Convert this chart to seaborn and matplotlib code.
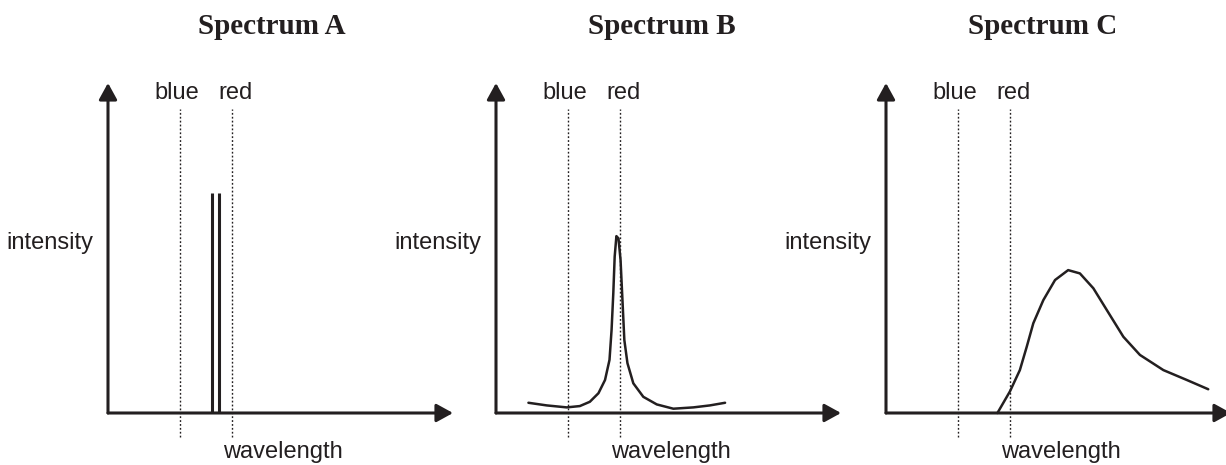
import matplotlib
matplotlib.use("Agg")
import matplotlib.pyplot as plt
import pandas as pd
import seaborn as sns

# panel data (wavelength / intensity in arbitrary units, 0-100)
titles = ["Spectrum A", "Spectrum B", "Spectrum C"]
blue_pos = 21.0
red_pos = 36.0

# spectrum A: two emission lines
lines_a_x = [30.1, 32.1]
lines_a_height = [66.7, 66.7]

# spectrum B: narrow peak near red
b_x = [9.4, 14.7, 20.5, 24.3, 27.2, 29.7, 31.6, 32.9, 33.5, 34.0, 34.4,
       34.9, 35.5, 36.1, 36.7, 37.2, 38.1, 39.8, 42.7, 46.6, 51.4, 57.2,
       62.0, 66.4]
b_y = [3.1, 2.3, 1.7, 2.1, 3.4, 6.0, 10.0, 16.1, 25.2, 36.3, 47.4,
       53.6, 52.9, 46.4, 33.2, 22.1, 15.1, 9.0, 4.9, 2.6, 1.3, 1.7,
       2.3, 3.1]

# spectrum C: broad hump redward
c_x = [32.3, 35.9, 38.8, 40.8, 42.7, 45.6, 49.0, 52.8, 56.2, 60.1, 64.0,
       68.8, 73.6, 80.4, 87.2, 93.4]
c_y = [0.0, 6.5, 13.0, 20.1, 27.2, 34.2, 40.3, 43.3, 42.3, 37.8, 31.2,
       23.1, 17.6, 13.0, 10.0, 7.2]

sns.set_theme(style="white")
plt.rcParams['font.family'] = ['Liberation Sans', 'DejaVu Sans']

INK = "#231f20"
W, H = 1226, 465
fig = plt.figure(figsize=(W / 100, H / 100), dpi=100)

origins = [108, 496, 886]   # pixel x of each y-axis
title_x = [47.5, 48.0, 45.5]
axes = []
for ox in origins:
    ax = fig.add_axes([ox / W, (H - 413) / H, 345 / W, 330 / H])
    ax.set_xlim(0, 100)
    ax.set_ylim(0, 100)
    axes.append(ax)

arrow = dict(arrowstyle="-|>,head_length=0.4,head_width=0.22",
             mutation_scale=25, lw=2.2, color=INK, shrinkA=0, shrinkB=0)

for i, ax in enumerate(axes):
    # axis arrows
    ax.annotate("", xy=(1, 0), xytext=(0, 0), xycoords="axes fraction",
                arrowprops=arrow, annotation_clip=False)
    ax.annotate("", xy=(0, 1), xytext=(0, 0), xycoords="axes fraction",
                arrowprops=arrow, annotation_clip=False)
    # blue/red markers
    ax.vlines([blue_pos, red_pos], -7.3, 92, colors=INK, linestyles=(0, (1.3, 1.5)),
              lw=1.0, clip_on=False)
    ax.text(20.0, 97, "blue", ha="center", va="center", fontsize=17, color=INK)
    ax.text(37.1, 97, "red", ha="center", va="center", fontsize=17, color=INK)
    ax.text(-4.3, 51.5, "intensity", ha="right", va="center", fontsize=17, color=INK)
    ax.text(50.7, -11.8, "wavelength", ha="center", va="center", fontsize=17, color=INK)
    ax.text(title_x[i], 117, titles[i], ha="center", va="center", fontsize=21,
            fontweight="bold", family=["Liberation Serif", "DejaVu Serif"], color=INK)

# spectrum A
axes[0].vlines(lines_a_x, 0, lines_a_height, colors=INK, lw=2.2)

# spectrum B
dfb = pd.DataFrame({"wavelength": b_x, "intensity": b_y})
sns.lineplot(data=dfb, x="wavelength", y="intensity", ax=axes[1], color=INK,
             lw=1.8, sort=False, estimator=None, clip_on=False,
             solid_joinstyle="round")

# spectrum C
dfc = pd.DataFrame({"wavelength": c_x, "intensity": c_y})
sns.lineplot(data=dfc, x="wavelength", y="intensity", ax=axes[2], color=INK,
             lw=1.8, sort=False, estimator=None, clip_on=False,
             solid_joinstyle="round")

for ax in axes:
    ax.set_xlim(0, 100)
    ax.set_ylim(0, 100)
    ax.set_axis_off()

fig.savefig("out.png", dpi=100)
